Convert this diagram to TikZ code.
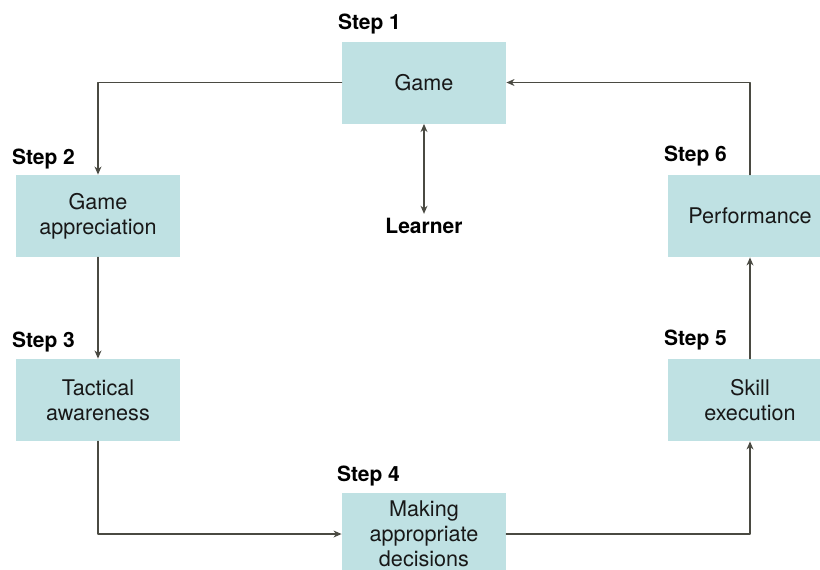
\documentclass[tikz,border=0pt]{standalone}
\usepackage{fontspec}
\setmainfont{TeX Gyre Heros}
\usetikzlibrary{arrows.meta}
\definecolor{boxfill}{RGB}{191,225,227}
\definecolor{linegrey}{RGB}{74,74,66}
\definecolor{textgrey}{RGB}{24,24,24}
\tikzset{
  stepbox/.style={fill=boxfill,minimum width=82pt,minimum height=41pt,inner sep=2pt,
    align=center,text=textgrey,font=\fontsize{10.8}{12.4}\selectfont},
  steplabel/.style={anchor=base west,inner sep=0pt,font=\fontsize{10.5}{12.4}\selectfont\bfseries},
  link/.style={draw=linegrey,line width=0.75pt},
  flow/.style={link,-{Stealth[length=4pt,width=3.4pt,inset=1.2pt]}},
  twoway/.style={link,{Stealth[length=4pt,width=3.4pt,inset=1.2pt]}-{Stealth[length=4pt,width=3.4pt,inset=1.2pt]}}
}
\begin{document}
\begin{tikzpicture}[x=0.5pt,y=-0.5pt,line cap=round,line join=round]
  \useasboundingbox (0,0) rectangle (820,569);
  \node[stepbox] (game) at (424,82.5) {Game};
  \node[stepbox] (appr) at (98,216) {Game\\appreciation};
  \node[stepbox] (tact) at (98,400) {Tactical\\awareness};
  \node[stepbox] (dec) at (424,534) {Making\\appropriate\\decisions};
  \node[stepbox] (skill) at (750,400) {Skill\\execution};
  \node[stepbox] (perf) at (750,216) {Performance};
  \node[steplabel] (s1) at ([shift={(-4,-12)}]game.north west) {Step 1};
  \node[steplabel] (s2) at ([shift={(-4,-10)}]appr.north west) {Step 2};
  \node[steplabel] (s3) at ([shift={(-4,-11)}]tact.north west) {Step 3};
  \node[steplabel] (s4) at ([shift={(-5,-11)}]dec.north west) {Step 4};
  \node[steplabel] (s5) at ([shift={(-4,-13)}]skill.north west) {Step 5};
  \node[steplabel] (s6) at ([shift={(-4,-13)}]perf.north west) {Step 6};
  \node[inner sep=2pt,font=\fontsize{10.5}{12.4}\selectfont\bfseries] (learner) at (424,226) {Learner};
  \draw[flow] (game.west) -| (appr.north);
  \draw[flow] (appr) -- (tact);
  \draw[flow] (tact.south) |- (dec.west);
  \draw[flow] (dec.east) -| (skill.south);
  \draw[flow] (skill) -- (perf);
  \draw[flow] (perf.north) |- (game.east);
  \draw[twoway] (game) -- (learner);
\end{tikzpicture}
\end{document}
